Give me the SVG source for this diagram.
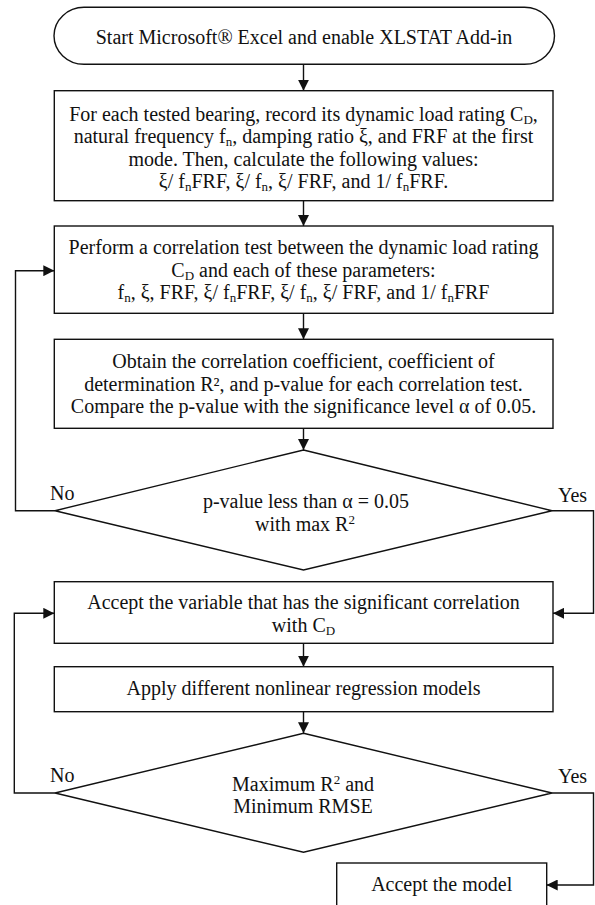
<svg xmlns="http://www.w3.org/2000/svg" width="595" height="905" viewBox="0 0 595 905">
<style>
.b{fill:#fff;stroke:#111;stroke-width:1.4}
.c{fill:none;stroke:#111;stroke-width:1.4}
.t{font-family:"Liberation Serif","Times New Roman",serif;font-size:20px;fill:#111;text-anchor:middle}
.l{font-family:"Liberation Serif","Times New Roman",serif;font-size:20px;fill:#111}
.s{font-size:13px}
</style>
<defs>
<marker id="ah" markerWidth="11" markerHeight="11" refX="11" refY="5.5" orient="auto" markerUnits="userSpaceOnUse"><path d="M0,0 L11,5.5 L0,11 z" fill="#111"/></marker>
</defs>
<rect width="595" height="905" fill="#fff"/>
<g id="connectors">
<line class="c" x1="303.5" y1="64.3" x2="303.5" y2="90.7" marker-end="url(#ah)"/>
<line class="c" x1="303.5" y1="200.7" x2="303.5" y2="226" marker-end="url(#ah)"/>
<line class="c" x1="303.5" y1="313.3" x2="303.5" y2="339.3" marker-end="url(#ah)"/>
<line class="c" x1="303.5" y1="428.3" x2="303.5" y2="450" marker-end="url(#ah)"/>
<polyline class="c" points="55,510.7 15.5,510.7 15.5,270.7 54.3,270.7" marker-end="url(#ah)"/>
<polyline class="c" points="552,510.7 593.5,510.7 593.5,613.3 553,613.3" marker-end="url(#ah)"/>
<line class="c" x1="303.5" y1="643.3" x2="303.5" y2="666.7" marker-end="url(#ah)"/>
<line class="c" x1="303.5" y1="711.7" x2="303.5" y2="733.3" marker-end="url(#ah)"/>
<polyline class="c" points="55,793 14.3,793 14.3,613.3 54.3,613.3" marker-end="url(#ah)"/>
<polyline class="c" points="552,793 593.5,793 593.5,885 546.7,885" marker-end="url(#ah)"/>
<text class="l" x="50" y="500">No</text>
<text class="l" x="558" y="501.7">Yes</text>
<text class="l" x="50" y="781.7">No</text>
<text class="l" x="558" y="783">Yes</text>
</g>
<g id="start">
<rect class="b" x="54" y="7.3" width="500.5" height="57" rx="30" ry="28.5"/>
<text class="t" x="304" y="44.3">Start Microsoft® Excel and enable XLSTAT Add-in</text>
</g>
<g id="record">
<rect class="b" x="54.3" y="90.7" width="498.7" height="110"/>
<text class="t" x="303.5" y="120.5">For each tested bearing, record its dynamic load rating C<tspan class="s" dy="3">D</tspan><tspan dy="-3">,</tspan></text>
<text class="t" x="303.5" y="143">natural frequency f<tspan class="s" dy="3">n</tspan><tspan dy="-3">, damping ratio ξ, and FRF at the first</tspan></text>
<text class="t" x="303.5" y="165.5">mode. Then, calculate the following values:</text>
<text class="t" x="303.5" y="187.5">ξ/ f<tspan class="s" dy="3">n</tspan><tspan dy="-3">FRF, ξ/ f</tspan><tspan class="s" dy="3">n</tspan><tspan dy="-3">, ξ/ FRF, and 1/ f</tspan><tspan class="s" dy="3">n</tspan><tspan dy="-3">FRF.</tspan></text>
</g>
<g id="correlate">
<rect class="b" x="54.3" y="226" width="498.7" height="87.3"/>
<text class="t" x="303.5" y="254">Perform a correlation test between the dynamic load rating</text>
<text class="t" x="303.5" y="276.5">C<tspan class="s" dy="3">D</tspan><tspan dy="-3"> and each of these parameters:</tspan></text>
<text class="t" x="303.5" y="299">f<tspan class="s" dy="3">n</tspan><tspan dy="-3">, ξ, FRF, ξ/ f</tspan><tspan class="s" dy="3">n</tspan><tspan dy="-3">FRF, ξ/ f</tspan><tspan class="s" dy="3">n</tspan><tspan dy="-3">, ξ/ FRF, and 1/ f</tspan><tspan class="s" dy="3">n</tspan><tspan dy="-3">FRF</tspan></text>
</g>
<g id="obtain">
<rect class="b" x="54.3" y="339.3" width="498.7" height="89"/>
<text class="t" x="303.5" y="368">Obtain the correlation coefficient, coefficient of</text>
<text class="t" x="303.5" y="390.5">determination R², and p-value for each correlation test.</text>
<text class="t" x="303.5" y="412.7">Compare the p-value with the significance level α of 0.05.</text>
</g>
<g id="decision1">
<polygon class="b" points="303.5,450 552,510.7 303.5,570 55,510.7"/>
<text class="t" x="306" y="508.3">p-value less than α = 0.05</text>
<text class="t" x="305" y="531">with max R<tspan class="s" dy="-7">2</tspan></text>
</g>
<g id="accept-variable">
<rect class="b" x="54.3" y="581.7" width="498.7" height="61.6"/>
<text class="t" x="303.5" y="609.3">Accept the variable that has the significant correlation</text>
<text class="t" x="303.5" y="631.7">with C<tspan class="s" dy="3">D</tspan></text>
</g>
<g id="regression">
<rect class="b" x="54.3" y="666.7" width="498.7" height="45"/>
<text class="t" x="303.5" y="695">Apply different nonlinear regression models</text>
</g>
<g id="decision2">
<polygon class="b" points="303.5,733.3 552,793 303.5,852.3 55,793"/>
<text class="t" x="303" y="791">Maximum R<tspan class="s" dy="-7">2</tspan><tspan dy="7"> and</tspan></text>
<text class="t" x="303" y="812.7">Minimum RMSE</text>
</g>
<g id="accept-model">
<rect class="b" x="336.7" y="863" width="210" height="60"/>
<text class="t" x="441.7" y="890.7">Accept the model</text>
</g>
</svg>
